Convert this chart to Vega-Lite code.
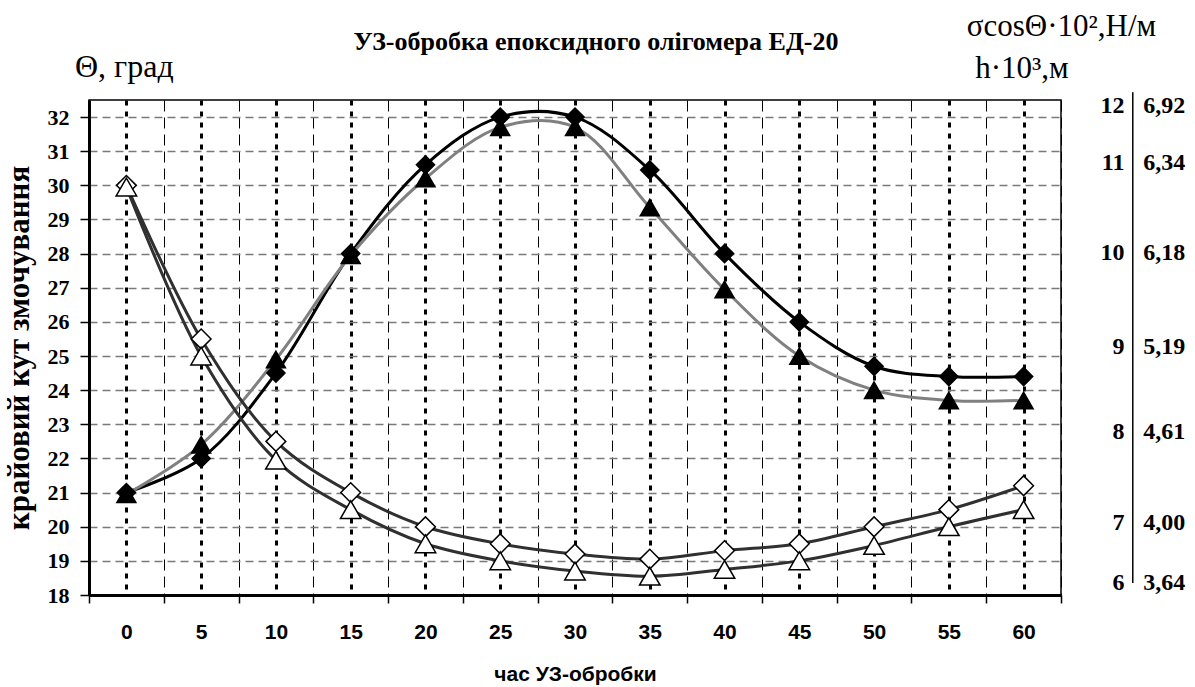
{
  "$schema": "https://vega.github.io/schema/vega-lite/v6.json",
  "width": 972,
  "height": 495,
  "autosize": "none",
  "padding": {"left": 89, "top": 100, "right": 134, "bottom": 92},
  "background": "white",
  "config": {
    "view": {"stroke": "black", "strokeWidth": 1.5},
    "axis": {"labelColor": "black", "titleColor": "black"}
  },
  "datasets": {
    "curves": [
      {"t": 0, "series": "s1", "v": 21}, {"t": 5, "series": "s1", "v": 22}, {"t": 10, "series": "s1", "v": 24.5}, {"t": 15, "series": "s1", "v": 28}, {"t": 20, "series": "s1", "v": 30.6}, {"t": 25, "series": "s1", "v": 32}, {"t": 30, "series": "s1", "v": 32}, {"t": 35, "series": "s1", "v": 30.45}, {"t": 40, "series": "s1", "v": 28}, {"t": 45, "series": "s1", "v": 26}, {"t": 50, "series": "s1", "v": 24.7}, {"t": 55, "series": "s1", "v": 24.4}, {"t": 60, "series": "s1", "v": 24.4},
      {"t": 0, "series": "s2", "v": 20.95}, {"t": 5, "series": "s2", "v": 22.4}, {"t": 10, "series": "s2", "v": 24.9}, {"t": 15, "series": "s2", "v": 27.95}, {"t": 20, "series": "s2", "v": 30.2}, {"t": 25, "series": "s2", "v": 31.7}, {"t": 30, "series": "s2", "v": 31.7}, {"t": 35, "series": "s2", "v": 29.35}, {"t": 40, "series": "s2", "v": 26.95}, {"t": 45, "series": "s2", "v": 25}, {"t": 50, "series": "s2", "v": 24}, {"t": 55, "series": "s2", "v": 23.7}, {"t": 60, "series": "s2", "v": 23.7},
      {"t": 0, "series": "s3", "v": 30}, {"t": 5, "series": "s3", "v": 25.5}, {"t": 10, "series": "s3", "v": 22.5}, {"t": 15, "series": "s3", "v": 21}, {"t": 20, "series": "s3", "v": 20}, {"t": 25, "series": "s3", "v": 19.5}, {"t": 30, "series": "s3", "v": 19.2}, {"t": 35, "series": "s3", "v": 19.05}, {"t": 40, "series": "s3", "v": 19.3}, {"t": 45, "series": "s3", "v": 19.5}, {"t": 50, "series": "s3", "v": 20}, {"t": 55, "series": "s3", "v": 20.5}, {"t": 60, "series": "s3", "v": 21.2},
      {"t": 0, "series": "s4", "v": 29.95}, {"t": 5, "series": "s4", "v": 25}, {"t": 10, "series": "s4", "v": 21.95}, {"t": 15, "series": "s4", "v": 20.5}, {"t": 20, "series": "s4", "v": 19.5}, {"t": 25, "series": "s4", "v": 19}, {"t": 30, "series": "s4", "v": 18.7}, {"t": 35, "series": "s4", "v": 18.55}, {"t": 40, "series": "s4", "v": 18.75}, {"t": 45, "series": "s4", "v": 19}, {"t": 50, "series": "s4", "v": 19.45}, {"t": 55, "series": "s4", "v": 20}, {"t": 60, "series": "s4", "v": 20.5}
    ],
    "rightScale": [
      {"sigma": "12", "h": "6,92", "theta": 32.32},
      {"sigma": "11", "h": "6,34", "theta": 30.65},
      {"sigma": "10", "h": "6,18", "theta": 28.01},
      {"sigma": "9", "h": "5,19", "theta": 25.26},
      {"sigma": "8", "h": "4,61", "theta": 22.77},
      {"sigma": "7", "h": "4,00", "theta": 20.1},
      {"sigma": "6", "h": "3,64", "theta": 18.35}
    ]
  },
  "resolve": {"axis": {"x": "independent", "y": "independent"}},
  "layer": [
    {
      "data": {"name": "curves"},
      "mark": {"type": "line", "interpolate": "catmull-rom", "strokeWidth": 3},
      "encoding": {
        "x": {
          "field": "t", "type": "quantitative",
          "scale": {"domain": [-2.5, 62.5], "nice": false, "zero": false},
          "axis": {
            "orient": "bottom",
            "values": [-2.5, 2.5, 7.5, 12.5, 17.5, 22.5, 27.5, 32.5, 37.5, 42.5, 47.5, 52.5, 57.5, 62.5],
            "grid": true, "gridColor": "black", "gridWidth": 1, "gridDash": [11, 6], "gridOpacity": 1,
            "ticks": true, "tickSize": 8, "tickWidth": 1.5, "tickColor": "black",
            "labels": false, "domain": true, "domainWidth": 3, "domainColor": "black", "title": null
          }
        },
        "y": {
          "field": "v", "type": "quantitative",
          "scale": {"domain": [18, 32.5], "nice": false, "zero": false},
          "axis": {
            "orient": "left",
            "values": [18, 19, 20, 21, 22, 23, 24, 25, 26, 27, 28, 29, 30, 31, 32],
            "grid": true, "gridColor": "#7a7a7a", "gridWidth": 1.5, "gridDash": [8, 5], "gridOpacity": 1,
            "ticks": true, "tickSize": 9, "tickWidth": 1.5, "tickColor": "black",
            "labelFont": "Liberation Serif", "labelFontWeight": "bold", "labelFontSize": 22, "labelPadding": 11,
            "domain": true, "domainWidth": 3, "domainColor": "black",
            "title": "крайовий кут змочування", "titleFont": "Liberation Serif", "titleFontWeight": "bold", "titleFontSize": 31, "titlePadding": 12
          }
        },
        "color": {
          "field": "series", "type": "nominal",
          "scale": {"domain": ["s1", "s2", "s3", "s4"], "range": ["#000000", "#808080", "#303030", "#303030"]},
          "legend": null
        }
      }
    },
    {
      "data": {"name": "curves"},
      "mark": {"type": "point", "filled": true, "stroke": "black", "strokeWidth": 1.5, "opacity": 1},
      "encoding": {
        "x": {
          "field": "t", "type": "quantitative",
          "scale": {"domain": [-2.5, 62.5], "nice": false, "zero": false},
          "axis": {
            "orient": "bottom",
            "values": [0, 5, 10, 15, 20, 25, 30, 35, 40, 45, 50, 55, 60],
            "grid": true, "gridColor": "black", "gridWidth": 3, "gridDash": [5, 6], "gridOpacity": 1,
            "ticks": false, "domain": false,
            "labelFont": "Liberation Sans", "labelFontWeight": "bold", "labelFontSize": 21, "labelPadding": 26,
            "title": "час УЗ-обробки", "titleFont": "Liberation Sans", "titleFontWeight": "bold", "titleFontSize": 21, "titlePadding": 21
          }
        },
        "y": {
          "field": "v", "type": "quantitative",
          "scale": {"domain": [18, 32.5], "nice": false, "zero": false},
          "axis": null
        },
        "shape": {
          "field": "series", "type": "nominal",
          "scale": {"domain": ["s1", "s2", "s3", "s4"], "range": ["diamond", "triangle-up", "diamond", "triangle-up"]},
          "legend": null
        },
        "fill": {
          "field": "series", "type": "nominal",
          "scale": {"domain": ["s1", "s2", "s3", "s4"], "range": ["#000000", "#000000", "#ffffff", "#ffffff"]},
          "legend": null
        },
        "size": {
          "field": "series", "type": "ordinal",
          "scale": {"domain": ["s1", "s2", "s3", "s4"], "range": [330, 420, 330, 420]},
          "legend": null
        }
      }
    },
    {
      "data": {"name": "rightScale"},
      "mark": {"type": "text", "align": "right", "baseline": "middle", "font": "Liberation Serif", "fontWeight": "bold", "fontSize": 24, "color": "black"},
      "encoding": {
        "x": {"datum": 66.75, "type": "quantitative", "scale": {"domain": [-2.5, 62.5], "nice": false, "zero": false}, "axis": null},
        "y": {"field": "theta", "type": "quantitative", "scale": {"domain": [18, 32.5], "nice": false, "zero": false}, "axis": null},
        "text": {"field": "sigma"}
      }
    },
    {
      "data": {"name": "rightScale"},
      "mark": {"type": "text", "align": "center", "baseline": "middle", "font": "Liberation Serif", "fontWeight": "bold", "fontSize": 24, "color": "black"},
      "encoding": {
        "x": {"datum": 69.4, "type": "quantitative", "scale": {"domain": [-2.5, 62.5], "nice": false, "zero": false}, "axis": null},
        "y": {"field": "theta", "type": "quantitative", "scale": {"domain": [18, 32.5], "nice": false, "zero": false}, "axis": null},
        "text": {"field": "h"}
      }
    },
    {
      "data": {"values": [{}]},
      "mark": {"type": "rule", "stroke": "black", "strokeWidth": 1.5},
      "encoding": {
        "x": {"datum": 67.3, "type": "quantitative", "scale": {"domain": [-2.5, 62.5], "nice": false, "zero": false}, "axis": null},
        "y": {"datum": 32.73, "type": "quantitative", "scale": {"domain": [18, 32.5], "nice": false, "zero": false}, "axis": null},
        "y2": {"datum": 18.35}
      }
    },
    {
      "data": {"values": [{}]},
      "mark": {"type": "text", "text": "УЗ-обробка епоксидного олігомера ЕД-20", "align": "center", "baseline": "alphabetic", "font": "Liberation Serif", "fontWeight": "bold", "fontSize": 26, "color": "black"},
      "encoding": {
        "x": {"datum": 31.4, "type": "quantitative", "scale": {"domain": [-2.5, 62.5], "nice": false, "zero": false}, "axis": null},
        "y": {"datum": 33.96, "type": "quantitative", "scale": {"domain": [18, 32.5], "nice": false, "zero": false}, "axis": null}
      }
    },
    {
      "data": {"values": [{}]},
      "mark": {"type": "text", "text": "Θ, град", "align": "left", "baseline": "alphabetic", "font": "Liberation Serif", "fontSize": 32, "color": "black"},
      "encoding": {
        "x": {"datum": -3.44, "type": "quantitative", "scale": {"domain": [-2.5, 62.5], "nice": false, "zero": false}, "axis": null},
        "y": {"datum": 33.17, "type": "quantitative", "scale": {"domain": [18, 32.5], "nice": false, "zero": false}, "axis": null}
      }
    },
    {
      "data": {"values": [{}]},
      "mark": {"type": "text", "text": "σcosΘ·10²,Н/м", "align": "left", "baseline": "alphabetic", "font": "Liberation Serif", "fontSize": 31, "color": "black"},
      "encoding": {
        "x": {"datum": 56.2, "type": "quantitative", "scale": {"domain": [-2.5, 62.5], "nice": false, "zero": false}, "axis": null},
        "y": {"datum": 34.37, "type": "quantitative", "scale": {"domain": [18, 32.5], "nice": false, "zero": false}, "axis": null}
      }
    },
    {
      "data": {"values": [{}]},
      "mark": {"type": "text", "text": "h·10³,м", "align": "left", "baseline": "alphabetic", "font": "Liberation Serif", "fontSize": 31, "color": "black"},
      "encoding": {
        "x": {"datum": 56.76, "type": "quantitative", "scale": {"domain": [-2.5, 62.5], "nice": false, "zero": false}, "axis": null},
        "y": {"datum": 33.14, "type": "quantitative", "scale": {"domain": [18, 32.5], "nice": false, "zero": false}, "axis": null}
      }
    }
  ]
}
